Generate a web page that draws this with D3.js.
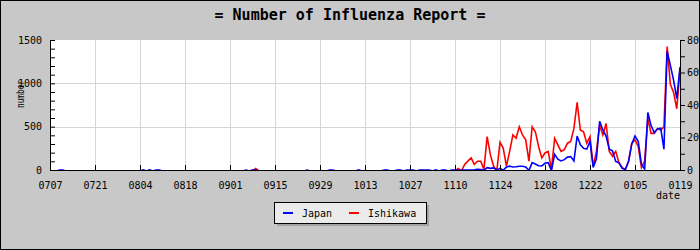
<!DOCTYPE html>
<html>
<head>
<meta charset="utf-8">
<script src="https://cdnjs.cloudflare.com/ajax/libs/d3/7.8.5/d3.min.js"></script>
<style>
   html, body { margin: 0; padding: 0; background: #c8c8c8; }
   svg { display: block; }
   text { font-family: "DejaVu Sans Mono", monospace; fill: #000; }
</style>
</head>
<body>
<div id="chart"></div>
<script>
// first day of the series, one value per day
var startDate = "2008-07-07";

var tickLabels = ["0707", "0721", "0804", "0818", "0901", "0915", "0929", "1013",
   "1027", "1110", "1124", "1208", "1222", "0105", "0119"];

var seriesNames = ["Japan", "Ishikawa"];
var seriesColors = ["#0000ff", "#ff0000"];

// Japan, left axis (14 days per row)
var japan = [
   0, 0, 0, 12, 12, 0, 0, 0, 0, 0, 0, 0, 0, 0,
   0, 0, 0, 0, 0, 0, 0, 0, 0, 0, 0, 0, 0, 0,
   0, 12, 0, 12, 0, 12, 12, 0, 0, 0, 0, 0, 0, 0,
   0, 0, 0, 0, 0, 0, 0, 0, 0, 0, 0, 0, 0, 0,
   0, 0, 0, 0, 0, 10, 0, 10, 12, 0, 0, 0, 0, 0,
   0, 0, 0, 0, 0, 0, 0, 0, 0, 0, 10, 0, 0, 0,
   0, 0, 0, 12, 12, 0, 0, 0, 0, 0, 0, 0, 12, 0,
   0, 0, 0, 0, 0, 0, 12, 12, 0, 0, 12, 12, 0, 12,
   12, 12, 0, 12, 12, 12, 12, 0, 12, 0, 12, 12, 0, 10,
   12, 8, 10, 10, 12, 12, 15, 20, 18, 8, 38, 30, 36, 12,
   30, 8, 45, 55, 46, 48, 54, 54, 45, 5, 96, 80, 60, 58,
   88, 96, 5, 190, 135, 115, 130, 160, 165, 115, 400, 300, 260, 250,
   340, 40, 140, 570, 470, 400, 250, 230, 110, 95, 30, 18, 110, 310,
   400, 340, 80, 20, 670, 520, 440, 480, 490, 250, 1370, 1210, 1040, 830,
   1190
];

// Ishikawa, right axis
var ishikawa = [
   0, 0, 0, 0, 0, 0, 0, 0, 0, 0, 0, 0, 0, 0,
   0, 0, 0, 0, 0, 0, 0, 0, 0, 0, 0, 0, 0, 0,
   0, 0, 0, 0, 0, 0, 0, 0, 0, 0, 0, 0, 0, 0,
   0, 0, 0, 0, 0, 0, 0, 0, 0, 0, 0, 0, 0, 0,
   0, 0, 0, 0, 0, 0, 0, 0, 1.5, 0, 0, 0, 0, 0,
   0, 0, 0, 0, 0, 0, 0, 0, 0, 0, 0, 0, 0, 0,
   0, 0, 0, 0, 0, 0, 0, 0, 0, 0, 0, 0, 0, 0,
   0, 0, 0, 0, 0, 0, 0, 0, 0, 0, 0, 0, 0, 0,
   0, 0, 0, 0, 0, 0, 0, 0, 0, 0, 0, 0, 0, 0,
   0, 1.5, 0, 4, 6, 8, 4, 6, 6, 1, 21, 10, 3, 0,
   17.5, 14, 3, 12, 22, 20, 27, 22, 19, 6, 27, 24, 15, 8,
   11, 12, 1, 20, 16, 12, 13, 17, 18, 26, 42, 25, 24, 17,
   21, 3, 12, 28, 22, 29, 12, 9, 12, 5, 2, 1, 6, 17,
   19, 15, 2, 6, 32, 23, 23, 26, 25, 27, 76, 53, 48, 38,
   62
];

var leftMax = 1500, leftStep = 100, leftLabelStep = 500;
var rightMax = 80, rightStep = 10, rightLabelStep = 20;

var width = 700, height = 250;
var margin = { top: 40, right: 20, bottom: 80, left: 50 };
var plotW = width - margin.left - margin.right;
var plotH = height - margin.top - margin.bottom;

var parse = d3.timeParse("%Y-%m-%d");
var start = parse(startDate);
var dayOf = function (i) { return d3.timeDay.offset(start, i); };
var tickDates = tickLabels.map(function (d, i) { return dayOf(i * 14); });

var xScale = d3.scaleTime()
   .domain([start, tickDates[tickDates.length - 1]])
   .range([margin.left, margin.left + plotW]);

// data scales sit one pixel lower so zero values hide behind the axis line
var yLeft = d3.scaleLinear().domain([0, leftMax]).range([margin.top + plotH + 1, margin.top]);
var yRight = d3.scaleLinear().domain([0, rightMax]).range([margin.top + plotH + 1, margin.top]);
var yLeftAxis = d3.scaleLinear().domain([0, leftMax]).range([margin.top + plotH, margin.top]);
var yRightAxis = d3.scaleLinear().domain([0, rightMax]).range([margin.top + plotH, margin.top]);

var svg = d3.select("#chart").append("svg")
   .attr("width", width)
   .attr("height", height);

svg.append("rect")
   .attr("x", 0.5).attr("y", 0.5)
   .attr("width", width - 1).attr("height", height - 1)
   .attr("fill", "#c8c8c8")
   .attr("stroke", "#000");

svg.append("text")
   .attr("x", width / 2)
   .attr("y", 20)
   .attr("text-anchor", "middle")
   .style("font-size", "15px")
   .style("font-weight", "bold")
   .text("= Number of Influenza Report =");

// plot area
svg.append("rect")
   .attr("x", margin.left).attr("y", margin.top)
   .attr("width", plotW).attr("height", plotH)
   .attr("fill", "#fff");

svg.append("defs").append("clipPath")
   .attr("id", "clip")
   .append("rect")
   .attr("x", margin.left).attr("y", margin.top - 2)
   .attr("width", plotW + 1).attr("height", plotH + 3);

// grid
var grid = svg.append("g").attr("class", "grid");
grid.selectAll(".vgrid")
   .data(tickDates.slice(1, -1))
   .enter().append("line")
   .attr("x1", function (d) { return Math.round(xScale(d)) + 0.5; })
   .attr("x2", function (d) { return Math.round(xScale(d)) + 0.5; })
   .attr("y1", margin.top)
   .attr("y2", margin.top + plotH)
   .attr("stroke", "#d6d6d6");
grid.selectAll(".hgrid")
   .data(d3.range(leftLabelStep, leftMax, leftLabelStep))
   .enter().append("line")
   .attr("x1", margin.left)
   .attr("x2", margin.left + plotW)
   .attr("y1", function (d) { return Math.round(yLeftAxis(d)) + 0.5; })
   .attr("y2", function (d) { return Math.round(yLeftAxis(d)) + 0.5; })
   .attr("stroke", "#d6d6d6");

// series
var lineLeft = d3.line()
   .x(function (d, i) { return xScale(dayOf(i)); })
   .y(function (d) { return yLeft(d); });
var lineRight = d3.line()
   .x(function (d, i) { return xScale(dayOf(i)); })
   .y(function (d) { return yRight(d); });

var lines = svg.append("g").attr("clip-path", "url(#clip)");
lines.append("path")
   .datum(ishikawa)
   .attr("fill", "none")
   .attr("stroke", seriesColors[1])
   .attr("stroke-width", 1.6)
   .attr("d", lineRight);
lines.append("path")
   .datum(japan)
   .attr("fill", "none")
   .attr("stroke", seriesColors[0])
   .attr("stroke-width", 1.6)
   .attr("d", lineLeft);

// axes
var xAxis = d3.axisBottom(xScale)
   .tickValues(tickDates)
   .tickFormat(function (d, i) { return tickLabels[i]; })
   .tickSizeInner(-5)
   .tickSizeOuter(0)
   .tickPadding(12);

var leftAxis = d3.axisLeft(yLeftAxis)
   .tickValues(d3.range(0, leftMax + 1, leftStep))
   .tickFormat(function (d) { return d % leftLabelStep === 0 ? d : ""; })
   .tickSizeInner(-5)
   .tickSizeOuter(0)
   .tickPadding(8);

var rightAxis = d3.axisRight(yRightAxis)
   .tickValues(d3.range(0, rightMax + 1, rightStep))
   .tickFormat(function (d) { return d % rightLabelStep === 0 ? d : ""; })
   .tickSizeInner(5)
   .tickSizeOuter(0)
   .tickPadding(2);

var gX = svg.append("g")
   .attr("transform", "translate(0," + (margin.top + plotH) + ")")
   .call(xAxis);
var gL = svg.append("g")
   .attr("transform", "translate(" + margin.left + ",0)")
   .call(leftAxis);
var gR = svg.append("g")
   .attr("transform", "translate(" + (margin.left + plotW) + ",0)")
   .call(rightAxis);

[gX, gL, gR].forEach(function (g) {
   g.attr("font-family", null).attr("font-size", null);
   g.selectAll("text").style("font-size", "10px").attr("fill", "#000");
   g.selectAll("line").attr("stroke", "#000");
   g.select(".domain").attr("stroke", "#000");
});

svg.append("text")
   .attr("transform", "translate(24," + 94 + ") rotate(-90)")
   .attr("text-anchor", "middle")
   .attr("textLength", 28)
   .attr("lengthAdjust", "spacingAndGlyphs")
   .style("font-size", "10px")
   .text("number");

svg.append("text")
   .attr("x", 668)
   .attr("y", 199)
   .attr("text-anchor", "middle")
   .style("font-size", "10px")
   .text("date");

// legend
var legend = svg.append("g").attr("transform", "translate(274,202)");
legend.append("rect")
   .attr("x", 3).attr("y", 3)
   .attr("width", 152).attr("height", 21)
   .attr("fill", "#a2a2a2");
legend.append("rect")
   .attr("x", 0.5).attr("y", 0.5)
   .attr("width", 152).attr("height", 21)
   .attr("fill", "#ebebeb")
   .attr("stroke", "#000");
var item = legend.selectAll(".item")
   .data(seriesNames)
   .enter().append("g")
   .attr("transform", function (d, i) { return "translate(" + (9 + i * 66) + ",0)"; });
item.append("line")
   .attr("x1", 0).attr("x2", 10)
   .attr("y1", 11).attr("y2", 11)
   .attr("stroke", function (d, i) { return seriesColors[i]; })
   .attr("stroke-width", 2);
item.append("text")
   .attr("x", 19)
   .attr("y", 14.5)
   .style("font-size", "10px")
   .text(function (d) { return d; });
</script>
</body>
</html>
